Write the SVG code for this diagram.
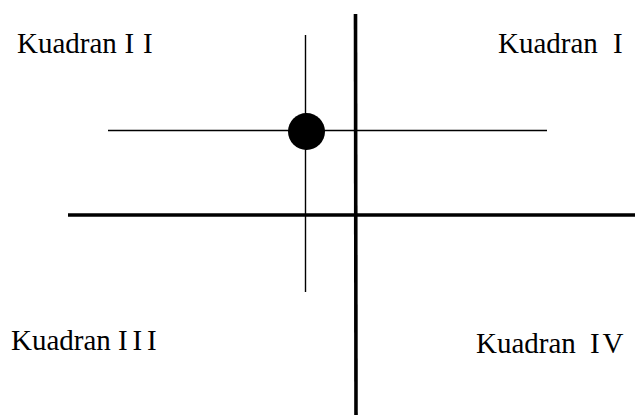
<svg xmlns="http://www.w3.org/2000/svg" width="635" height="417" viewBox="0 0 635 417">
<style>
.thin{stroke:#000;stroke-width:1.4;fill:none}
.thick{stroke:#000;stroke-width:3.6;fill:none}
</style>
<rect width="635" height="417" fill="#fff"/>
<g id="connectors">
<line class="thick" x1="355.5" y1="14" x2="356" y2="415"/>
<line class="thick" x1="68" y1="215" x2="635" y2="215"/>
<line class="thin" x1="108" y1="130.5" x2="547" y2="130.5"/>
<line class="thin" x1="305.5" y1="35" x2="305.5" y2="292"/>
</g>
<g id="point">
<circle cx="306.5" cy="131.5" r="18.5" fill="#000"/>
</g>
<g id="kuadran-2"><text font-family="Liberation Serif" font-size="29" x="17" y="53">Kuadran <tspan x="124.5">I</tspan><tspan x="143">I</tspan></text></g>
<g id="kuadran-1"><text font-family="Liberation Serif" font-size="29" x="498" y="53">Kuadran <tspan x="613">I</tspan></text></g>
<g id="kuadran-3"><text font-family="Liberation Serif" font-size="29" x="11" y="350">Kuadran <tspan x="118">I</tspan><tspan x="132.5">I</tspan><tspan x="147">I</tspan></text></g>
<g id="kuadran-4"><text font-family="Liberation Serif" font-size="29" x="476" y="353">Kuadran <tspan x="590">I</tspan><tspan x="602.5">V</tspan></text></g>
</svg>
